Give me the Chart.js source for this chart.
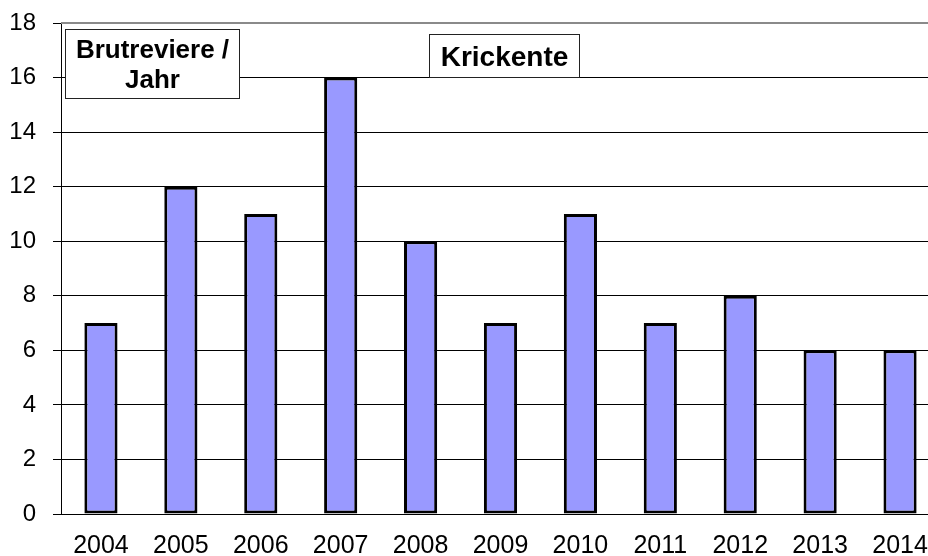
<!DOCTYPE html>
<html>
<head>
<meta charset="utf-8">
<script src="https://cdn.jsdelivr.net/npm/chart.js@4"></script>
<style>
  html, body { margin: 0; padding: 0; background: #fff; overflow: hidden; }
  #wrap { position: relative; width: 945px; height: 556px; }
</style>
</head>
<body>
<div id="wrap"><canvas id="c"></canvas></div>
<script>
const years = ['2004','2005','2006','2007','2008','2009','2010','2011','2012','2013','2014'];
const territories = [7, 12, 11, 16, 10, 7, 11, 7, 8, 6, 6];
const yTicks = [0, 2, 4, 6, 8, 10, 12, 14, 16, 18];
const boxLabelLeft = ['Brutreviere /', 'Jahr'];
const boxLabelTitle = 'Krickente';

const FONT = '"Liberation Sans", Arial, Helvetica, sans-serif';

const overlay = {
  id: 'overlay',
  afterDraw(chart) {
    const ctx = chart.ctx;
    const a = chart.chartArea;
    ctx.save();
    // top plot border
    ctx.strokeStyle = '#8a8a8a';
    ctx.lineWidth = 2;
    ctx.beginPath();
    ctx.moveTo(a.left, a.top);
    ctx.lineTo(a.right, a.top);
    ctx.stroke();

    function box(x1, y1, x2, y2, lines, size) {
      ctx.fillStyle = '#fff';
      ctx.fillRect(x1, y1, x2 - x1, y2 - y1);
      ctx.strokeStyle = '#222';
      ctx.lineWidth = 1;
      ctx.strokeRect(x1 + 0.5, y1 + 0.5, x2 - x1 - 1, y2 - y1 - 1);
      ctx.fillStyle = '#000';
      ctx.font = 'bold ' + size + 'px ' + FONT;
      ctx.textAlign = 'center';
      ctx.textBaseline = 'alphabetic';
      const cx = (x1 + x2) / 2;
      const lh = size * 1.15;
      const total = lh * lines.length;
      lines.forEach((t, i) => {
        const base = (y1 + y2) / 2 - total / 2 + lh * i + lh * 0.5 + size * 0.36;
        ctx.fillText(t, cx, base);
      });
    }
    box(65, 29, 240, 99, boxLabelLeft, 26);
    box(429, 34, 580, 78, [boxLabelTitle], 28);
    ctx.restore();
  }
};

new Chart(document.getElementById('c'), {
  type: 'bar',
  data: {
    labels: years,
    datasets: [{
      data: territories,
      backgroundColor: '#9999FF',
      borderColor: '#000',
      borderWidth: 3,
      borderSkipped: false,
      barPercentage: 0.415,
      categoryPercentage: 1.0
    }]
  },
  options: {
    responsive: true,
    maintainAspectRatio: false,
    animation: false,
    devicePixelRatio: 1,
    layout: { padding: { top: 23, right: 5, left: 0, bottom: 0 } },
    plugins: { legend: { display: false }, tooltip: { enabled: false }, title: { display: false } },
    scales: {
      x: {
        grid: { display: false, drawTicks: false },
        border: { display: true, color: '#000', width: 1 },
        ticks: { color: '#000', font: { family: FONT, size: 25 }, padding: 17, maxRotation: 0, autoSkip: false },
        afterFit(s) { s.height = 42; s.paddingLeft = 0; s.paddingRight = 0; }
      },
      y: {
        min: 0, max: 18,
        afterBuildTicks(s) { s.ticks = yTicks.map(v => ({ value: v })); },
        grid: { color: '#000', lineWidth: 1, tickLength: 8, drawTicks: true },
        border: { display: true, color: '#000', width: 1 },
        ticks: { color: '#000', font: { family: FONT, size: 24 }, padding: 17 },
        afterFit(s) { s.width = 61; s.paddingTop = 0; s.paddingBottom = 0; }
      }
    }
  },
  plugins: [overlay]
});
</script>
</body>
</html>
